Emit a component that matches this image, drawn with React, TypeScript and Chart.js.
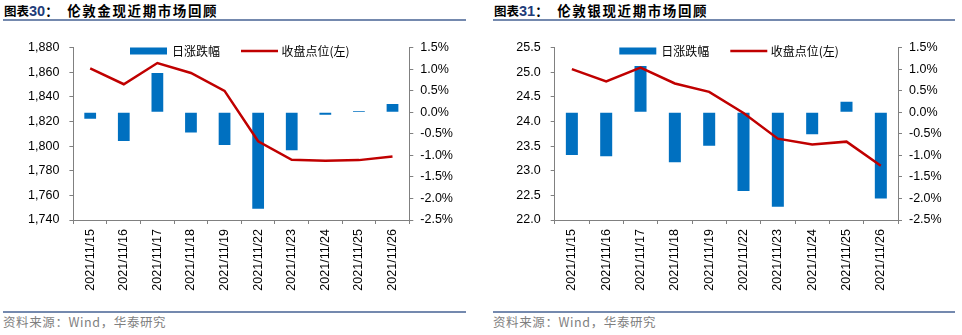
import React, { useEffect, useRef } from "react";
import { Chart, registerables } from "chart.js";

Chart.register(...registerables);

// ---------- data ----------
const categories = [
  "2021/11/15",
  "2021/11/16",
  "2021/11/17",
  "2021/11/18",
  "2021/11/19",
  "2021/11/22",
  "2021/11/23",
  "2021/11/24",
  "2021/11/25",
  "2021/11/26",
];

// 伦敦金现
const goldClose = [1863.1, 1850.2, 1867.4, 1859.3, 1844.8, 1803.9, 1788.9, 1788.1, 1788.6, 1791.6];
const goldChange = [-0.15, -0.67, 0.91, -0.47, -0.76, -2.24, -0.88, -0.06, 0.03, 0.19];

// 伦敦银现
const silverClose = [25.06, 24.81, 25.09, 24.77, 24.6, 24.17, 23.65, 23.53, 23.59, 23.1];
const silverChange = [-0.99, -1.02, 1.07, -1.16, -0.78, -1.83, -2.19, -0.51, 0.24, -2.0];

const goldAxis = { min: 1740, max: 1880, step: 20 };
const silverAxis = { min: 22.0, max: 25.5, step: 0.5 };
const pctAxis = { min: -2.5, max: 1.5, step: 0.5 };

const barLabel = "日涨跌幅";
const lineLabel = "收盘点位(左)";

const goldTitleNo = "30";
const silverTitleNo = "31";
const goldTitle = "伦敦金现近期市场回顾";
const silverTitle = "伦敦银现近期市场回顾";
const sourceText = "资料来源：Wind，华泰研究";

// ---------- styles ----------
const BAR_COLOR = "#0070C0";
const LINE_COLOR = "#C00000";
const AXIS_COLOR = "#808080";
const RULE_COLOR = "#7489AE";
const LATIN = "'Liberation Sans', Arial, sans-serif";
const CJK = "'Noto Sans CJK SC', sans-serif";

const inlineLegend = {
  id: "inlineLegend",
  afterDatasetsDraw(chart: any, _args: any, opts: any) {
    const ctx = chart.ctx;
    const top = chart.chartArea.top;
    const cy = top + 3.5;
    let x = opts.x;
    ctx.save();
    ctx.font = `12px ${CJK}`;
    ctx.textBaseline = "middle";
    ctx.fillStyle = BAR_COLOR;
    ctx.fillRect(x, top, 37, 7);
    x += 37 + 5;
    ctx.fillStyle = "#000";
    ctx.fillText(opts.barLabel, x, cy + 0.5);
    x += ctx.measureText(opts.barLabel).width + 21;
    ctx.strokeStyle = LINE_COLOR;
    ctx.lineWidth = 2.5;
    ctx.beginPath();
    ctx.moveTo(x, cy);
    ctx.lineTo(x + 37, cy);
    ctx.stroke();
    x += 37 + 3.5;
    ctx.fillStyle = "#000";
    ctx.fillText(opts.lineLabel, x, cy + 0.5);
    ctx.restore();
  },
};

type PanelProps = {
  left: number;
  width: number;
  leftAxisW: number;
  rightAxisW: number;
  legendX: number;
  close: number[];
  change: number[];
  axis: { min: number; max: number; step: number };
  fmt: (v: number) => string;
};

function ChartPanel(p: PanelProps) {
  const ref = useRef<HTMLCanvasElement | null>(null);
  useEffect(() => {
    if (!ref.current) return;
    const tickFont = { family: LATIN, size: 12.5 };
    const grid = {
      drawOnChartArea: false,
      drawTicks: true,
      tickLength: 4,
      color: AXIS_COLOR,
      lineWidth: 1,
    };
    const border = { display: true, color: AXIS_COLOR, width: 1 };
    const chart = new Chart(ref.current, {
      type: "bar",
      data: {
        labels: categories,
        datasets: [
          {
            type: "line",
            label: lineLabel,
            data: p.close,
            yAxisID: "y",
            borderColor: LINE_COLOR,
            backgroundColor: LINE_COLOR,
            borderWidth: 2.5,
            pointRadius: 0,
            tension: 0,
            order: 0,
          } as any,
          {
            type: "bar",
            label: barLabel,
            data: p.change,
            yAxisID: "y1",
            backgroundColor: BAR_COLOR,
            barPercentage: 0.35,
            categoryPercentage: 1,
            order: 1,
          } as any,
        ],
      },
      options: {
        animation: false,
        responsive: false,
        devicePixelRatio: 1,
        layout: { padding: { top: 15.5, left: 0, right: 0, bottom: 0 } },
        plugins: {
          legend: { display: false },
          tooltip: { enabled: false },
          inlineLegend: { x: p.legendX, barLabel, lineLabel },
        } as any,
        scales: {
          x: {
            type: "category",
            offset: true,
            grid: { ...grid, offset: true },
            border,
            ticks: {
              autoSkip: false,
              maxRotation: 90,
              minRotation: 90,
              padding: 5,
              color: "#000",
              font: tickFont,
            },
            afterFit: (s: any) => {
              s.height = 80;
            },
          },
          y: {
            position: "left",
            min: p.axis.min,
            max: p.axis.max,
            grid,
            border,
            ticks: {
              stepSize: p.axis.step,
              padding: 10,
              color: "#000",
              font: tickFont,
              callback: (v: any) => p.fmt(Number(v)),
            },
            afterFit: (s: any) => {
              s.width = p.leftAxisW;
            },
          },
          y1: {
            position: "right",
            min: pctAxis.min,
            max: pctAxis.max,
            grid,
            border,
            ticks: {
              stepSize: pctAxis.step,
              padding: 7,
              color: "#000",
              font: tickFont,
              callback: (v: any) => Number(v).toFixed(1) + "%",
            },
            afterFit: (s: any) => {
              s.width = p.rightAxisW;
            },
          },
        } as any,
      },
      plugins: [inlineLegend as any],
    });
    return () => chart.destroy();
  }, []);
  return (
    <canvas
      ref={ref}
      width={p.width}
      height={270}
      style={{ position: "absolute", left: p.left, top: 30, width: p.width, height: 270 }}
    />
  );
}

function Header(props: { left: number; ruleLeft: number; ruleWidth: number; no: string; title: string }) {
  return (
    <>
      <div
        style={{
          position: "absolute",
          left: props.left,
          top: 1,
          height: 18,
          lineHeight: "18px",
          fontFamily: CJK,
          fontWeight: 700,
          fontSize: 13,
          color: "#000",
          whiteSpace: "nowrap",
        }}
      >
        <span style={{ fontSize: 12.5 }}>图表</span>
        <span style={{ fontFamily: LATIN, fontSize: 14.5, color: "#1F3D7A" }}>{props.no}</span>
        <span style={{ fontSize: 13 }}>：</span>
        <span style={{ marginLeft: 9, letterSpacing: 1.6, fontSize: 13.5 }}>{props.title}</span>
      </div>
      <div
        style={{
          position: "absolute",
          left: props.ruleLeft,
          top: 19,
          width: props.ruleWidth,
          height: 1.5,
          background: RULE_COLOR,
        }}
      />
    </>
  );
}

function Footer(props: { left: number; ruleLeft: number; ruleWidth: number }) {
  return (
    <>
      <div
        style={{
          position: "absolute",
          left: props.ruleLeft,
          top: 311,
          width: props.ruleWidth,
          height: 1.5,
          background: RULE_COLOR,
        }}
      />
      <div
        style={{
          position: "absolute",
          left: props.left,
          top: 314,
          height: 16,
          lineHeight: "16px",
          fontFamily: CJK,
          fontSize: 12.5,
          color: "#7F7F7F",
          whiteSpace: "nowrap",
          letterSpacing: 0.6,
        }}
      >
        {sourceText}
      </div>
    </>
  );
}

export default function App() {
  return (
    <div
      style={{
        position: "absolute",
        left: 0,
        top: 0,
        width: 962,
        height: 335,
        background: "#fff",
        overflow: "hidden",
      }}
    >
      <Header left={4} ruleLeft={3} ruleWidth={463} no={goldTitleNo} title={goldTitle} />
      <Header left={494} ruleLeft={493} ruleWidth={462} no={silverTitleNo} title={silverTitle} />
      <ChartPanel
        left={0}
        width={480}
        leftAxisW={73.4}
        rightAxisW={70.7}
        legendX={130}
        close={goldClose}
        change={goldChange}
        axis={goldAxis}
        fmt={(v) => v.toLocaleString("en-US")}
      />
      <ChartPanel
        left={480}
        width={482}
        leftAxisW={74.7}
        rightAxisW={64}
        legendX={139.3}
        close={silverClose}
        change={silverChange}
        axis={silverAxis}
        fmt={(v) => v.toFixed(1)}
      />
      <Footer left={3} ruleLeft={3} ruleWidth={463} />
      <Footer left={493} ruleLeft={493} ruleWidth={462} />
    </div>
  );
}
